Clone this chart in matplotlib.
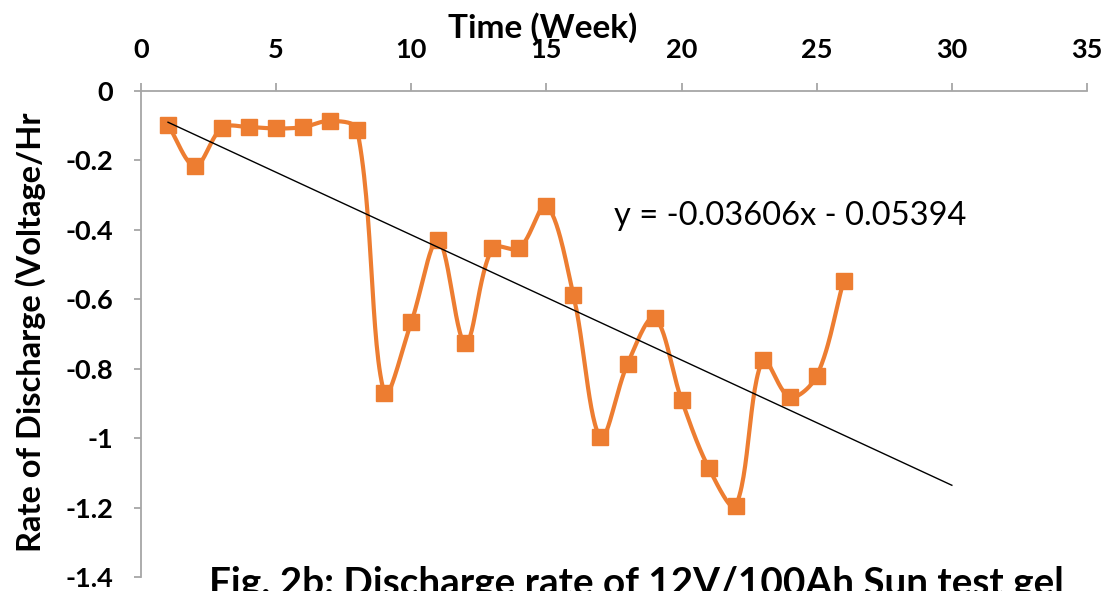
import numpy as np
import matplotlib
matplotlib.use("Agg")
import matplotlib.pyplot as plt
from matplotlib.ticker import FixedLocator, FixedFormatter

weeks = list(range(1, 27))
rate = [-0.098, -0.216, -0.106, -0.104, -0.108, -0.104, -0.086, -0.112,
        -0.870, -0.666, -0.429, -0.727, -0.453, -0.453, -0.330, -0.588,
        -0.998, -0.786, -0.653, -0.890, -1.085, -1.195, -0.775, -0.882,
        -0.821, -0.546]
slope = -0.03606
intercept = -0.05394
trend_x = [1, 30]
x_ticks = [0, 5, 10, 15, 20, 25, 30, 35]
y_ticks = [0, -0.2, -0.4, -0.6, -0.8, -1.0, -1.2, -1.4]
y_tick_labels = ["0", "-0.2", "-0.4", "-0.6", "-0.8", "-1", "-1.2", "-1.4"]
equation = "y = -0.03606x - 0.05394"
x_title = "Time (Week)"
y_title = "Rate of Discharge (Voltage/Hr"
caption = "Fig. 2b: Discharge rate of 12V/100Ah Sun test gel"

ORANGE = "#ED7D31"
GRAY = "#A6A6A6"
FONT = "Lato"


def smooth_display(ax, xs, ys, n=30, tension=1.0 / 3.0):
    # Smoothed line through the points (Bezier with length-weighted tangents),
    # computed in display space, returned in data space.
    P = ax.transData.transform(np.column_stack([xs, ys]).astype(float))
    m = len(P)
    out = []
    t = np.linspace(0, 1, n)[:, None]
    def ctrl(i):
        prev = P[max(i - 1, 0)]
        nxt = P[min(i + 1, m - 1)]
        d = nxt - prev
        l_prev = np.linalg.norm(P[i] - prev)
        l_next = np.linalg.norm(nxt - P[i])
        tot = l_prev + l_next
        if tot == 0:
            return P[i], P[i]
        back = P[i] - d * (l_prev / tot) * tension
        fwd = P[i] + d * (l_next / tot) * tension
        return back, fwd
    for i in range(m - 1):
        p1, p2 = P[i], P[i + 1]
        c1 = ctrl(i)[1]
        c2 = ctrl(i + 1)[0]
        seg = ((1 - t) ** 3) * p1 + 3 * ((1 - t) ** 2) * t * c1 + 3 * (1 - t) * t ** 2 * c2 + t ** 3 * p2
        out.append(seg if i == 0 else seg[1:])
    out = np.vstack(out)
    D = ax.transData.inverted().transform(out)
    return D[:, 0], D[:, 1]


fig = plt.figure(figsize=(11.10, 5.91), dpi=100)
ax = fig.add_axes([141 / 1110, 1 - 577 / 591, (1087 - 141) / 1110, (577 - 91) / 591])
ax.set_xlim(0, 35)
ax.set_ylim(-1.4, 0)

sx, sy = smooth_display(ax, weeks, rate)
ax.plot(sx, sy, color=ORANGE, lw=3.0, zorder=3, solid_capstyle="round")
ax.plot(weeks, rate, ls="none", marker="s", ms=12, color=ORANGE, zorder=4)

tx = np.array(trend_x, float)
ax.plot(tx, slope * tx + intercept, color="black", lw=1.0, zorder=5)

ax.xaxis.tick_top()
ax.xaxis.set_major_locator(FixedLocator(x_ticks))
ax.yaxis.set_major_locator(FixedLocator(y_ticks))
ax.yaxis.set_major_formatter(FixedFormatter(y_tick_labels))

for s in ["right", "bottom"]:
    ax.spines[s].set_visible(False)
for s in ["top", "left"]:
    ax.spines[s].set_color(GRAY)
    ax.spines[s].set_linewidth(1.3)

ax.tick_params(axis="x", direction="out", length=6, width=1.3, color=GRAY, pad=15,
               labelsize=19.5)
ax.tick_params(axis="y", direction="out", length=5, width=1.3, color=GRAY, pad=15,
               labelsize=19.5)
for lab in ax.get_xticklabels() + ax.get_yticklabels():
    lab.set_fontfamily(FONT)
    lab.set_fontweight("bold")

fig.text(543 / 1110, 1 - 38 / 591, x_title, ha="center", va="baseline",
         fontsize=24, fontweight="bold", family=FONT)
fig.text(31 / 1110, 1 - 332 / 591, y_title, ha="center", va="center", rotation=90,
         fontsize=23.5, fontweight="bold", family=FONT)
fig.text(614 / 1110, 1 - 216 / 591, equation, ha="left", va="center",
         fontsize=23.5, family=FONT)
fig.text(636 / 1110, 1 - 595 / 591, caption, ha="center", va="baseline",
         fontsize=27.8, fontweight="bold", family=FONT)

fig.savefig("out.png", dpi=100)
